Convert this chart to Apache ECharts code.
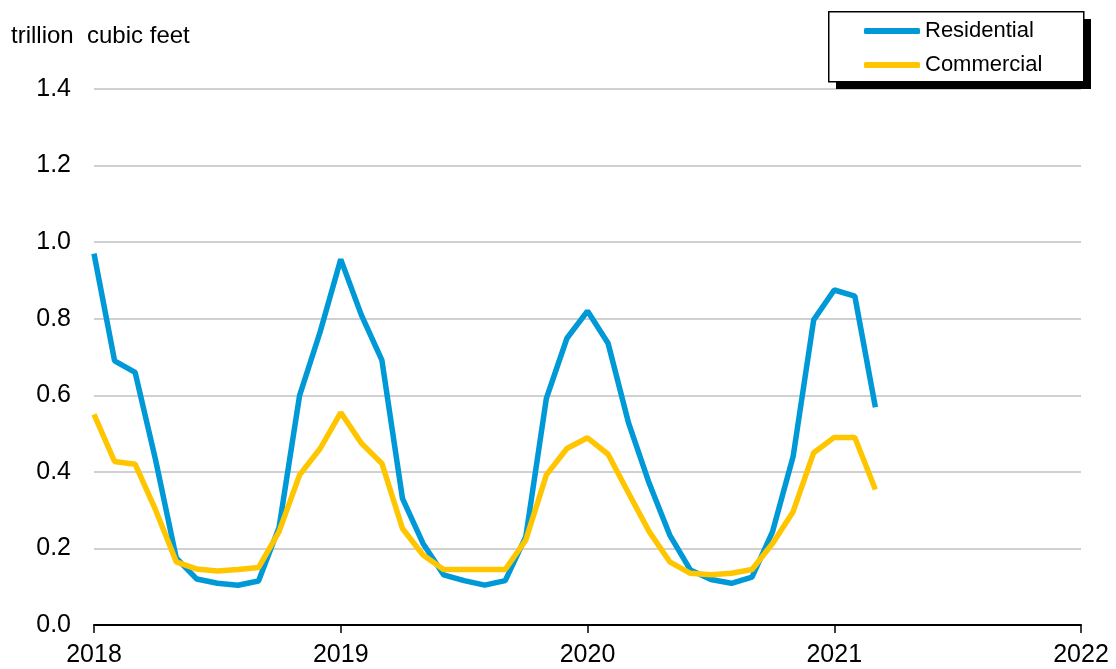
<!DOCTYPE html>
<html>
<head>
<meta charset="utf-8">
<script src="https://cdn.jsdelivr.net/npm/echarts@6/dist/echarts.min.js"></script>
<style>html,body{margin:0;padding:0;background:#fff;}#c{width:1116px;height:669px;}</style>
</head>
<body>
<div id="c"></div>
<script>
// Monthly data, Jan 2018 through Mar 2021
const startYear = 2018;
const yearTicks = [2018, 2019, 2020, 2021, 2022];
const residential = [0.97, 0.69, 0.66, 0.43, 0.175, 0.12, 0.109, 0.104, 0.115, 0.255, 0.60, 0.766,
  0.955, 0.81, 0.692, 0.331, 0.213, 0.131, 0.116, 0.104, 0.116, 0.231, 0.592, 0.749,
  0.82, 0.736, 0.527, 0.37, 0.235, 0.144, 0.119, 0.109, 0.125, 0.244, 0.44, 0.797,
  0.875, 0.859, 0.569];
const commercial = [0.55, 0.427, 0.42, 0.30, 0.165, 0.146, 0.141, 0.145, 0.15, 0.244, 0.392, 0.461,
  0.555, 0.475, 0.422, 0.252, 0.183, 0.145, 0.145, 0.145, 0.145, 0.222, 0.392, 0.461,
  0.489, 0.446, 0.344, 0.244, 0.165, 0.135, 0.131, 0.135, 0.145, 0.213, 0.296, 0.45,
  0.49, 0.49, 0.354];

const toPoints = arr => arr.map((v, i) => [startYear + i / 12, v]);
const FONT = '"Liberation Sans", Arial, sans-serif';

const chart = echarts.init(document.getElementById('c'));
chart.setOption({
  animation: false,
  backgroundColor: '#fff',
  grid: { left: 94, right: 35, top: 89, bottom: 44 },
  graphic: [
    { type: 'text', left: 11, top: 24, z: 10,
      style: { text: 'trillion  cubic feet', font: '24px "Liberation Sans", Arial, sans-serif', fill: '#000' } },
    { type: 'rect', left: 836, top: 19, z: 1, shape: { width: 255, height: 70 },
      style: { fill: '#000' } },
    { type: 'rect', left: 828, top: 11, z: 2, shape: { width: 255, height: 70 },
      style: { fill: '#fff', stroke: '#000', lineWidth: 1.5 } }
  ],
  legend: {
    orient: 'vertical',
    left: 864, top: 20,
    padding: 0,
    itemGap: 12,
    itemWidth: 56, itemHeight: 6,
    itemStyle: { borderWidth: 0 },
    icon: 'roundRect',
    z: 20,
    textStyle: { fontSize: 22, color: '#000', fontFamily: FONT, lineHeight: 22 },
    data: ['Residential', 'Commercial']
  },
  xAxis: {
    type: 'value', min: 2018, max: 2022, interval: 1,
    axisLine: { lineStyle: { color: '#000', width: 2 } },
    axisTick: { show: true, length: 8, lineStyle: { color: '#000', width: 1.5 } },
    axisLabel: { fontSize: 25, color: '#000', fontFamily: FONT, margin: 18,
      formatter: v => yearTicks.includes(Math.round(v)) ? String(Math.round(v)) : '' },
    splitLine: { show: false }
  },
  yAxis: {
    type: 'value', min: 0, max: 1.4, interval: 0.2,
    axisLine: { show: false },
    axisTick: { show: false },
    axisLabel: { fontSize: 25, color: '#000', fontFamily: FONT, margin: 23,
      formatter: v => v.toFixed(1) },
    splitLine: { lineStyle: { color: '#c0c0c0', width: 1.5 } }
  },
  series: [
    { name: 'Residential', type: 'line', data: toPoints(residential), showSymbol: false,
      color: '#0099d8', lineStyle: { width: 5.5, color: '#0099d8' } },
    { name: 'Commercial', type: 'line', data: toPoints(commercial), showSymbol: false,
      color: '#ffc600', lineStyle: { width: 5.5, color: '#ffc600' } }
  ]
});
</script>
</body>
</html>
